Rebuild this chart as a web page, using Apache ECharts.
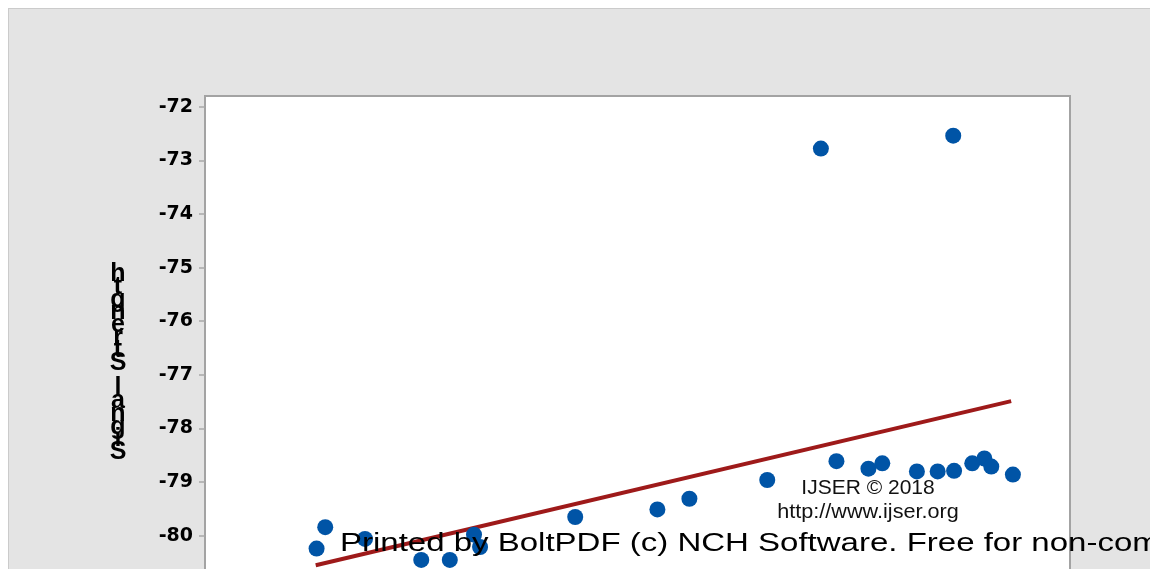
<!DOCTYPE html>
<html>
<head>
<meta charset="utf-8">
<script src="https://cdn.jsdelivr.net/npm/echarts@6/dist/echarts.min.js"></script>
<style>
  html, body { margin: 0; padding: 0; background: #fff; overflow: hidden; }
  #frame { position: absolute; left: 8px; top: 8px; width: 1160px; height: 600px;
           background: #e4e4e4; border: 1px solid #cbcbcb; }
  #chart { position: absolute; left: 0; top: 0; width: 1150px; height: 569px; }
</style>
</head>
<body>
<div id="frame"></div>
<div id="chart"></div>
<script>
// Measurement position of each sample (x) and its received signal strength (dBm)
const position = [12.9, 13.9, 18.5, 25.0, 28.3, 31.1, 31.8, 42.8, 52.3, 56.0, 65.0,
                  71.2, 86.5, 73.0, 76.7, 78.3, 82.3, 84.7, 86.6, 88.7, 90.1, 90.9, 93.4];
const signal = [-80.24, -79.84, -80.06, -80.45, -80.45, -79.98, -80.21, -79.65, -79.51, -79.31, -78.96,
                -72.78, -72.54, -78.61, -78.75, -78.65, -78.80, -78.80, -78.79, -78.65, -78.56, -78.71, -78.86];

// End points of the fitted regression line
const fitX = [12.8, 93.2];
const fitY = [-80.55, -77.49];

// Tick values on the signal axis
const yTicks = [-72, -73, -74, -75, -76, -77, -78, -79, -80, -81, -82];

const axisTitle = 'Signal Strength';
const stamp1 = 'IJSER © 2018';
const stamp2 = 'http://www.ijser.org';
const printNote = 'Printed by BoltPDF (c) NCH Software. Free for non-commercial use only.';

// Title letters are stacked bottom-to-top, each one upright; a trailing
// empty line lifts the stack slightly above the axis centre
const stackedTitle = axisTitle.split('').reverse().join('\n') + '\n';

const points = position.map((x, i) => [x, signal[i]]);
const fitPoints = fitX.map((x, i) => [x, fitY[i]]);

const chart = echarts.init(document.getElementById('chart'), null, { renderer: 'canvas' });

chart.setOption({
  backgroundColor: 'transparent',
  animation: false,
  grid: {
    left: 205, top: 96, width: 865, height: 547,
    outerBoundsMode: 'none',
    containLabel: false,
    show: true, backgroundColor: '#ffffff',
    borderColor: '#a3a3a3', borderWidth: 2
  },
  xAxis: {
    type: 'value', min: 0, max: 100,
    axisLine: { show: false },
    axisTick: { show: false },
    axisLabel: { show: false },
    splitLine: { show: false }
  },
  yAxis: {
    type: 'value', min: -82, max: -71.8, interval: 1,
    name: stackedTitle,
    nameLocation: 'middle',
    nameRotate: 0,
    nameGap: 87,
    nameTextStyle: {
      fontFamily: '"Liberation Sans", Arial, sans-serif',
      fontWeight: 'bold', fontSize: 25, lineHeight: 12.7,
      color: '#000', align: 'center', verticalAlign: 'middle'
    },
    axisLine: { show: true, lineStyle: { color: '#a3a3a3', width: 2 } },
    axisTick: { show: true, length: 6, customValues: yTicks,
                lineStyle: { color: '#a8a8a8', width: 1.5 } },
    axisLabel: {
      customValues: yTicks, margin: 12,
      fontFamily: '"DejaVu Sans", sans-serif', fontWeight: 'bold',
      fontSize: 19, color: '#000', padding: [4, 0, 0, 0]
    },
    splitLine: { show: false }
  },
  series: [
    {
      type: 'line', data: fitPoints, symbol: 'none', z: 2,
      lineStyle: { color: '#9e1a1a', width: 4 }
    },
    {
      type: 'scatter', data: points, symbol: 'circle', symbolSize: 16, z: 3,
      itemStyle: { color: '#0054a6', opacity: 1 }
    }
  ],
  graphic: [
    {
      type: 'text', x: 868, y: 488, z: 100,
      style: { text: stamp1, font: '21px "Liberation Sans", Arial, sans-serif',
               fill: '#111', textAlign: 'center', textVerticalAlign: 'middle' }
    },
    {
      type: 'text', x: 868, y: 512, z: 100, scaleX: 1.03,
      style: { text: stamp2, font: '21px "Liberation Sans", Arial, sans-serif',
               fill: '#111', textAlign: 'center', textVerticalAlign: 'middle' }
    },
    {
      type: 'text', x: 340, y: 544, z: 100, scaleX: 1.32,
      style: { text: printNote, font: '25px "Liberation Sans", Arial, sans-serif',
               fill: '#000', textAlign: 'left', textVerticalAlign: 'middle' }
    }
  ]
});
</script>
</body>
</html>
